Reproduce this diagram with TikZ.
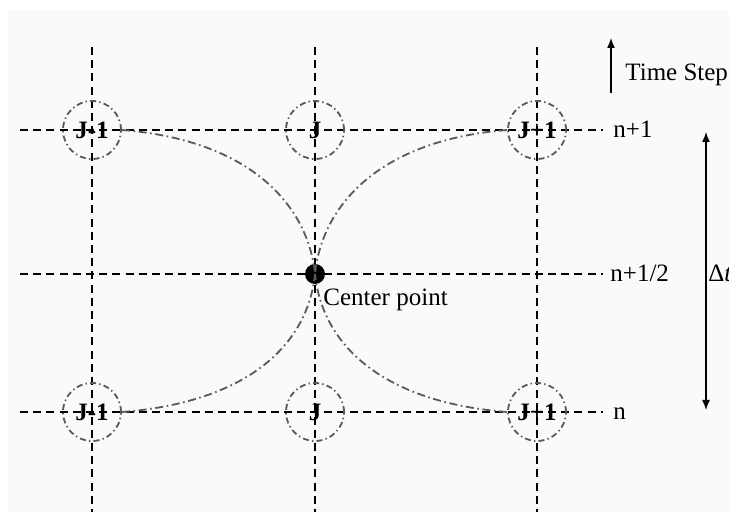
\documentclass[tikz,border=0pt]{standalone}
\usepackage{fontspec}
\setmainfont{Liberation Serif}
\usetikzlibrary{arrows.meta,positioning}

\begin{document}
\begin{tikzpicture}[x=0.5pt,y=-0.5pt,
  grid/.style={line width=0.9pt,dash pattern=on 4pt off 2.6pt},
  ring/.style={circle,draw=gray!70!black,line width=0.9pt,dash pattern=on 3pt off 1.6pt on 0.7pt off 1.6pt,minimum size=29pt,inner sep=0pt,font=\fontsize{12.5}{14}\selectfont\bfseries},
  link/.style={gray!70!black,line width=0.9pt,dash pattern=on 4pt off 1.8pt on 0.8pt off 1.8pt},
  lbl/.style={font=\fontsize{12.5}{15}\selectfont,inner sep=0pt,anchor=base west}]
\useasboundingbox (0,0) rectangle (729,512);
\fill[black!2] (8,10) rectangle (729,512);
% grid of time levels and nodes
\foreach \x in {92,315,537}{\draw[grid] (\x,47)--(\x,512);}
\foreach \y in {130,274,412}{\draw[grid] (20,\y)--(603,\y);}
\node[ring] (up1) at (92,130) {J-1}; \node[ring] (up2) at (315,130) {J}; \node[ring] (up3) at (537,130) {J+1};
\node[ring] (lo1) at (92,412) {J-1}; \node[ring] (lo2) at (315,412) {J}; \node[ring] (lo3) at (537,412) {J+1};
\node[circle,fill=black,inner sep=0pt,minimum size=10pt] (cen) at (315,274) {};
\node[lbl] (cenlbl) at (323,306) {Center point};
% characteristics through the center point
\draw[link] (up1.east) .. controls (250,140) and (308,205) .. (cen.center);
\draw[link] (up3.west) .. controls (380,140) and (322,205) .. (cen.center);
\draw[link] (lo1.east) .. controls (250,402) and (308,343) .. (cen.center);
\draw[link] (lo3.west) .. controls (380,402) and (322,343) .. (cen.center);
% level labels
\node[lbl] (lv1) at (613,138) {n+1};
\node[lbl] (lv2) at (610,282) {n+1/2};
\node[lbl] (lv3) at (613,420) {n};
\node[lbl] (tstep) at (625,81) {Time Step};
\coordinate (ta) at (611,93); \coordinate (tb) at (611,38);
\draw[line width=0.7pt,-{Latex[length=5pt,width=4pt]}] (ta)--(tb);
\coordinate (da) at (706,132); \coordinate (db) at (706,410);
\draw[line width=0.7pt,{Latex[length=5pt,width=4pt]}-{Latex[length=5pt,width=4pt]}] (da)--(db);
\node[lbl] (dt) at (708,282) {Δ\textit{t}};
\end{tikzpicture}
\end{document}
